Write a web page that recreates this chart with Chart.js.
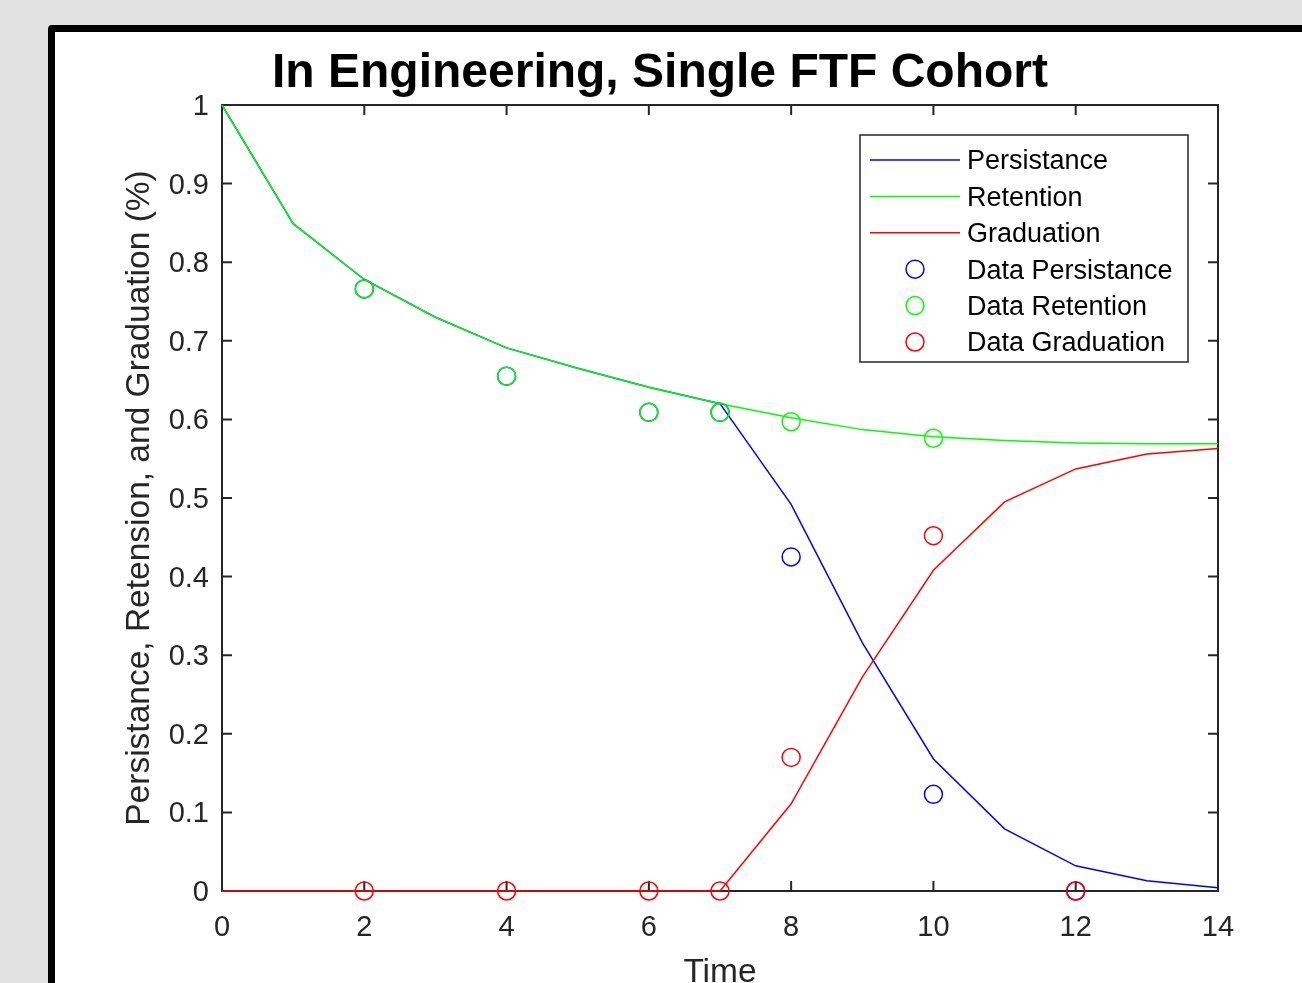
<!DOCTYPE html>
<html lang="en">
<head>
    <meta charset="UTF-8">
    <title>In Engineering, Single FTF Cohort</title>
    <script src="https://cdn.jsdelivr.net/npm/chart.js"></script>
    <style>
        html, body { margin: 0; padding: 0; overflow: hidden; background: #e2e2e2; }
        #frame {
            position: absolute; left: 48px; top: 25px;
            width: 1400px; height: 1100px;
            border: 7px solid #000; border-radius: 4px;
            background: #fff; box-sizing: border-box;
        }
        #cohortChart { position: absolute; left: 0; top: 0; }
    </style>
</head>
<body>
<div id="frame"></div>
<canvas id="cohortChart" width="1302" height="983"></canvas>

<script>
    // model curves, one value per time step
    const times = [0, 1, 2, 3, 4, 5, 6, 7, 8, 9, 10, 11, 12, 13, 14];
    const persistance = [1, 0.849, 0.778, 0.730, 0.691, 0.665, 0.641, 0.620, 0.492, 0.316, 0.168, 0.079, 0.032, 0.013, 0.004];
    const retention = [1, 0.849, 0.778, 0.730, 0.691, 0.665, 0.641, 0.620, 0.602, 0.587, 0.578, 0.573, 0.570, 0.569, 0.569];
    const graduation = [0, 0, 0, 0, 0, 0, 0, 0, 0.111, 0.272, 0.408, 0.495, 0.537, 0.556, 0.563];

    // observed data
    const dataTimes = [2, 4, 6, 7, 8, 10, 12];
    const dataPersistance = [0.766, 0.655, 0.609, 0.609, 0.425, 0.123, 0];
    const dataRetention = [0.766, 0.655, 0.609, 0.609, 0.597, 0.576, null];
    const dataGraduation = [0, 0, 0, 0, 0.170, 0.452, 0];

    const xTicks = [0, 2, 4, 6, 8, 10, 12, 14];
    const yTicks = [0, 0.1, 0.2, 0.3, 0.4, 0.5, 0.6, 0.7, 0.8, 0.9, 1];

    const pairs = (xs, ys) => xs.map((x, i) => ({ x: x, y: ys[i] }));

    const lineSet = (label, values, color, order) => ({
        label: label, data: pairs(times, values), borderColor: color,
        showLine: true, borderWidth: 1.5, pointRadius: 0, pointHoverRadius: 0,
        tension: 0, clip: false, order: order
    });
    const dotSet = (label, values, color, order) => ({
        label: label, data: pairs(dataTimes, values), borderColor: color,
        backgroundColor: 'transparent', showLine: false, pointRadius: 9,
        pointBorderWidth: 1.5, pointHoverRadius: 9, clip: false, order: order
    });

    // box round the plot, ticks pointing inwards on all four sides
    const axisBox = {
        id: 'axisBox',
        beforeDatasetsDraw(chart) {
            const { ctx, chartArea: a, scales } = chart;
            ctx.save();
            ctx.strokeStyle = '#262626';
            ctx.lineWidth = 2;
            ctx.strokeRect(a.left, a.top, a.right - a.left, a.bottom - a.top);
            ctx.beginPath();
            scales.x.ticks.forEach(t => {
                const px = scales.x.getPixelForValue(t.value);
                ctx.moveTo(px, a.bottom); ctx.lineTo(px, a.bottom - 10);
                ctx.moveTo(px, a.top); ctx.lineTo(px, a.top + 10);
            });
            scales.y.ticks.forEach(t => {
                const py = scales.y.getPixelForValue(t.value);
                ctx.moveTo(a.left, py); ctx.lineTo(a.left + 10, py);
                ctx.moveTo(a.right, py); ctx.lineTo(a.right - 10, py);
            });
            ctx.stroke();
            ctx.restore();
        }
    };

    // matlab style legend box in the upper right corner
    const boxLegend = {
        id: 'boxLegend',
        afterDraw(chart) {
            const { ctx, chartArea: a } = chart;
            const left = a.right - 358, top = a.top + 30;
            const w = 328, h = 227, step = 36.4;
            ctx.save();
            ctx.fillStyle = '#fff';
            ctx.fillRect(left, top, w, h);
            ctx.strokeStyle = '#262626';
            ctx.lineWidth = 1.5;
            ctx.strokeRect(left, top, w, h);
            ctx.font = '27px "Liberation Sans", Arial, sans-serif';
            ctx.textBaseline = 'middle';
            chart.data.datasets.forEach((ds, i) => {
                const cy = top + 25 + i * step;
                ctx.strokeStyle = ds.borderColor;
                ctx.lineWidth = 1.5;
                ctx.beginPath();
                if (ds.showLine === false) {
                    ctx.arc(left + 55, cy, 9, 0, Math.PI * 2);
                } else {
                    ctx.moveTo(left + 10, cy);
                    ctx.lineTo(left + 100, cy);
                }
                ctx.stroke();
                ctx.fillStyle = '#000';
                ctx.fillText(ds.label, left + 107, cy + 2);
            });
            ctx.restore();
        }
    };

    Chart.defaults.font.family = '"Liberation Sans", Arial, Helvetica, sans-serif';
    Chart.defaults.color = '#262626';

    const ctx = document.getElementById('cohortChart').getContext('2d');
    const chart = new Chart(ctx, {
        type: 'scatter',
        data: {
            datasets: [
                lineSet('Persistance', persistance, '#0000ff', 6),
                lineSet('Retention', retention, '#00ff00', 5),
                lineSet('Graduation', graduation, '#ff0000', 4),
                dotSet('Data Persistance', dataPersistance, '#0000ff', 3),
                dotSet('Data Retention', dataRetention, '#00ff00', 2),
                dotSet('Data Graduation', dataGraduation, '#ff0000', 1)
            ]
        },
        options: {
            responsive: false,
            animation: false,
            devicePixelRatio: 1,
            events: [],
            layout: { padding: { left: 102, right: 84, top: 0, bottom: 0 } },
            plugins: {
                legend: { display: false },
                tooltip: { enabled: false },
                title: {
                    display: true,
                    text: 'In Engineering, Single FTF Cohort',
                    color: '#000',
                    font: { size: 48, weight: 'bold' },
                    padding: { top: 45.2, bottom: 2.2 }
                }
            },
            scales: {
                x: {
                    type: 'linear', min: 0, max: 14,
                    afterBuildTicks: s => { s.ticks = xTicks.map(v => ({ value: v })); },
                    afterFit: s => { s.height = 92; },
                    grid: { display: false, drawTicks: false },
                    border: { display: false },
                    ticks: { font: { size: 29 }, padding: 20, maxRotation: 0, callback: v => String(v) },
                    title: { display: true, text: 'Time', font: { size: 33.5 }, padding: { top: 0, bottom: -9.4 } }
                },
                y: {
                    type: 'linear', min: 0, max: 1,
                    afterBuildTicks: s => { s.ticks = yTicks.map(v => ({ value: v })); },
                    afterFit: s => { s.width = 120; },
                    grid: { display: false, drawTicks: false },
                    border: { display: false },
                    ticks: { font: { size: 29 }, padding: 13, labelOffset: 2, callback: v => String(v) },
                    title: {
                        display: true, text: 'Persistance, Retension, and Graduation (%)',
                        font: { size: 33.5 }, padding: { top: 17.9, bottom: 0 }
                    }
                }
            }
        },
        plugins: [axisBox, boxLegend]
    });
</script>
</body>
</html>
